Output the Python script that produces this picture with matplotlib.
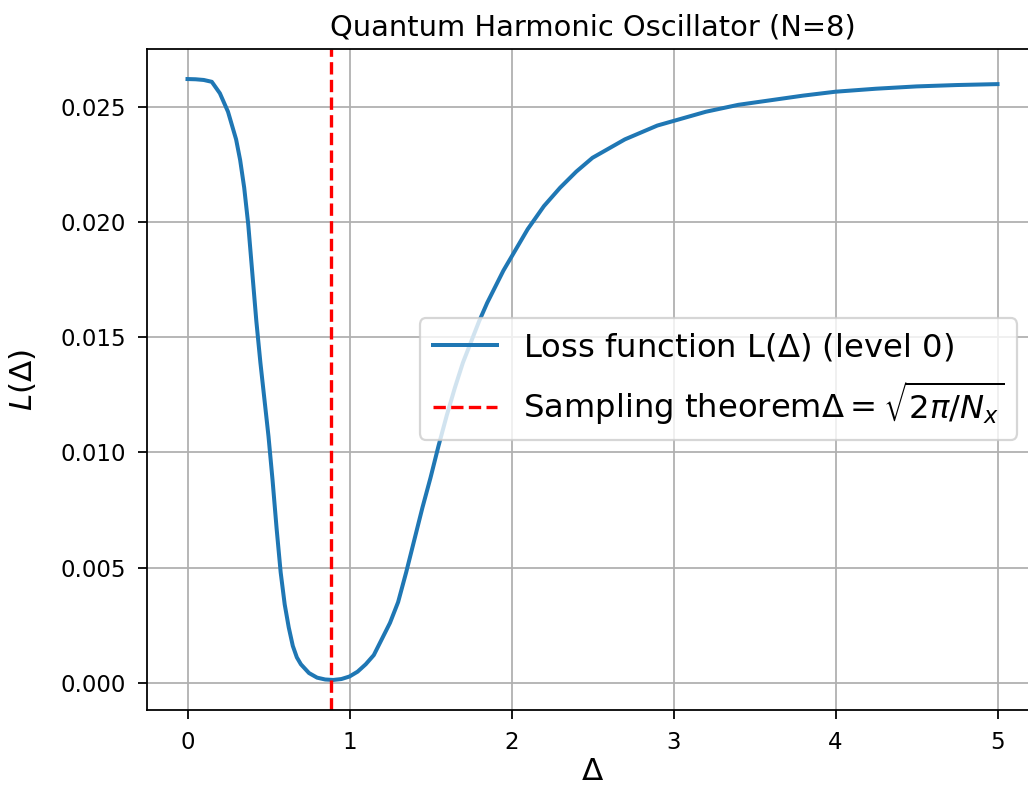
import matplotlib
matplotlib.use("Agg")
import matplotlib.pyplot as plt

# loss curve (level 0)
delta = [0.0, 0.05, 0.1, 0.15, 0.2, 0.25, 0.3, 0.325, 0.35, 0.375,
         0.4, 0.425, 0.45, 0.475, 0.5, 0.525, 0.55, 0.575, 0.6, 0.625,
         0.65, 0.675, 0.7, 0.75, 0.8, 0.85, 0.9, 0.95, 1.0, 1.05,
         1.1, 1.15, 1.2, 1.25, 1.3, 1.35, 1.4, 1.45, 1.5, 1.55,
         1.6, 1.65, 1.7, 1.75, 1.8, 1.85, 1.9, 1.95, 2.0, 2.1,
         2.2, 2.3, 2.4, 2.5, 2.6, 2.7, 2.8, 2.9, 3.0, 3.2,
         3.4, 3.6, 3.8, 4.0, 4.25, 4.5, 4.75, 5.0]
loss = [0.02622, 0.02621, 0.02618, 0.0261, 0.0256, 0.0248, 0.0236, 0.0227, 0.0215, 0.0199,
        0.0178, 0.0157, 0.0139, 0.0123, 0.0107, 0.0088, 0.0067, 0.0048, 0.0034, 0.0024,
        0.0016, 0.0011, 0.0008, 0.00042, 0.00022, 0.00014, 0.00012, 0.00016, 0.00027, 0.00048,
        0.0008, 0.0012, 0.0019, 0.0026, 0.0035, 0.0048, 0.0062, 0.0076, 0.0089, 0.0103,
        0.0116, 0.0128, 0.0139, 0.0148, 0.0157, 0.0165, 0.0172, 0.0179, 0.0185, 0.0197,
        0.0207, 0.0215, 0.0222, 0.0228, 0.0232, 0.0236, 0.0239, 0.0242, 0.0244, 0.0248,
        0.0251, 0.0253, 0.0255, 0.02567, 0.0258, 0.0259, 0.02596, 0.0260]

# sampling theorem value sqrt(2*pi/8)
delta_sampling = 0.886

fig = plt.figure(figsize=(1028 / 160, 787 / 160), dpi=160)
ax = fig.add_axes([147 / 1028, 1 - 710 / 787, 891 / 1028, 661 / 787])

ax.plot(delta, loss, lw=1.8, label=r'Loss function L($\Delta$) (level 0)')
ax.axvline(delta_sampling, color='red', linestyle='--',
           label=r'Sampling theorem$\Delta=\sqrt{2\pi/N_x}$')

ax.set_title('Quantum Harmonic Oscillator (N=8)', fontsize=13)
ax.set_xlabel(r'$\Delta$', fontsize=14, labelpad=1.5)
ax.set_ylabel(r'$L(\Delta)$', fontsize=14, labelpad=10)
ax.tick_params(labelsize=10.3, length=4.1, pad=5.4)
ax.legend(fontsize=14.5, loc='center right', borderaxespad=0,
          bbox_to_anchor=(1017 / 1028, 1 - 379 / 787), bbox_transform=fig.transFigure)
ax.grid(True)

fig.savefig('out.png', dpi=160)
